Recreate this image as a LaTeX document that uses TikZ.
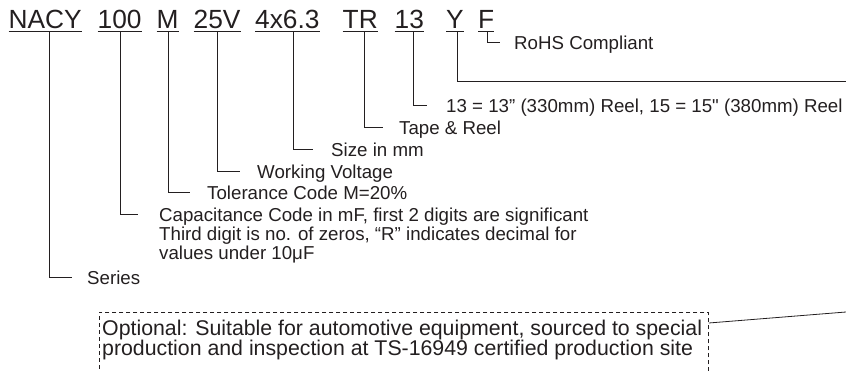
\documentclass[tikz,border=0pt]{standalone}
\usepackage{fontspec}
\setmainfont{Liberation Sans}
\definecolor{ink}{RGB}{35,31,32}
\tikzset{
  code/.style={anchor=base west, inner sep=0pt, font=\fontsize{26.3}{26}\selectfont, text=ink},
  lbl/.style={anchor=base west, inner sep=0pt, font=\fontsize{18.7}{19}\selectfont, text=ink},
  opttext/.style={anchor=base west, inner sep=0pt, font=\fontsize{21.3}{20}\selectfont, text=ink},
  lead/.style={draw=ink, line width=1pt},
  uline/.style={draw=ink, line width=1pt},
  optframe/.style={draw=ink, line width=0.8pt, dash pattern=on 4pt off 3pt, anchor=north west, inner sep=0pt, minimum width=609pt, minimum height=80pt},
}
\begin{document}
\begin{tikzpicture}[x=1pt,y=-1pt]
\useasboundingbox (0,0) rectangle (846,371);
\clip (0,0) rectangle (846,371);

% part number codes
\node[code] (cS) at (8.5,28.5) {NACY};
\node[code] (cC) at (97.5,28.5) {100};
\node[code] (cM) at (156.5,28.5) {M};
\node[code] (cV) at (193.5,28.5) {25V};
\node[code] (cZ) at (255,28.5) {4x6.3};
\node[code] (cT) at (342.5,28.5) {TR};
\node[code] (cR) at (394.5,28.5) {13};
\node[code] (cY) at (446,28.5) {Y};
\node[code] (cF) at (478,28.5) {F};

\foreach \n in {cS,cC,cM,cV,cZ,cT,cR,cY,cF}
  \draw[uline] ([yshift=-3.5pt]\n.base west) -- ([yshift=-3.5pt]\n.base east);

% labels
\node[lbl] (lF) at (514,50) {RoHS Compliant};
\node[lbl] (lR) at (446,113) {13 = 13” (330mm) Reel, 15 = 15\textquotedbl{} (380mm) Reel};
\node[lbl] (lT) at (399,135) {Tape \& Reel};
\node[lbl] (lZ) at (331,157) {Size in mm};
\node[lbl] (lV) at (257,179) {Working Voltage};
\node[lbl] (lM) at (207,200) {Tolerance Code M=20\%};
\node[lbl] (lC) at (159,222) {Capacitance Code in mF, first 2 digits are significant};
\node[lbl] (lC2) at (159,241) {Third digit is no. of zeros, “R” indicates decimal for};
\node[lbl] (lC3) at (159,260) {values under 10μF};
\node[lbl] (lS) at (87,285) {Series};

% optional box
\node[optframe] (box) at (99,312) {};
\node[opttext] (o1) at (102,335) {Optional: Suitable for automotive equipment, sourced to special};
\node[opttext] (o2) at (102,355) {production and inspection at TS-16949 certified production site};

\coordinate (yEdge) at (846,82);
\coordinate (bEdge) at (846,312);

% leaders
\draw[lead] ([xshift=9pt,yshift=-3.5pt]cF.base west) |- ([xshift=-14pt,yshift=7pt]lF.base west);
\draw[lead] ([xshift=11pt,yshift=-3.5pt]cY.base west) |- (yEdge);
\draw[lead] ([xshift=18.5pt,yshift=-3.5pt]cR.base west) |- ([xshift=-19pt,yshift=7pt]lR.base west);
\draw[lead] ([xshift=21.5pt,yshift=-3.5pt]cT.base west) |- ([xshift=-16pt,yshift=7pt]lT.base west);
\draw[lead] ([xshift=38pt,yshift=-3.5pt]cZ.base west) |- ([xshift=-18pt,yshift=7pt]lZ.base west);
\draw[lead] ([xshift=23.5pt,yshift=-3.5pt]cV.base west) |- ([xshift=-17pt,yshift=7pt]lV.base west);
\draw[lead] ([xshift=11.5pt,yshift=-3.5pt]cM.base west) |- ([xshift=-17pt,yshift=7pt]lM.base west);
\draw[lead] ([xshift=22.5pt,yshift=-3.5pt]cC.base west) |- ([xshift=-21pt,yshift=7pt]lC.base west);
\draw[lead] ([xshift=40.5pt,yshift=-3.5pt]cS.base west) |- ([xshift=-15pt,yshift=7pt]lS.base west);
\draw[lead, line width=0.8pt] ([yshift=-11pt]box.north east) -- (bEdge);
\end{tikzpicture}
\end{document}
